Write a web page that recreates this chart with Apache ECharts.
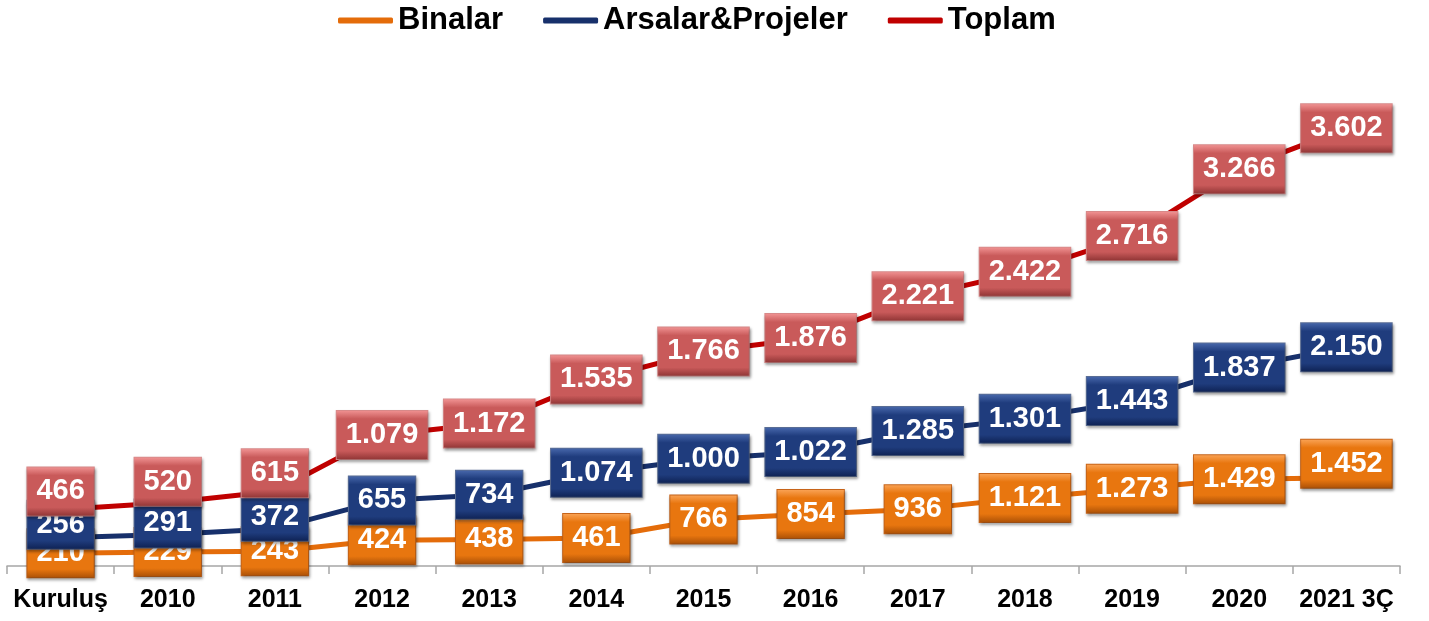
<!DOCTYPE html>
<html style="height: 100%">
<head>
    <meta charset="utf-8">
    <title>line</title>
    <script type="text/javascript" src="https://cdn.jsdelivr.net/npm/echarts@6/dist/echarts.min.js"></script>
    <style>
        html, body { margin: 0; padding: 0; height: 100%; width: 100%; background: #fff; }
        #main { width: 1429px; height: 621px; }
    </style>
</head>
<body>
<div id="main"></div>
<script type="text/javascript">
    var categories = ['Kuruluş', '2010', '2011', '2012', '2013', '2014', '2015', '2016', '2017', '2018', '2019', '2020', '2021 3Ç'];
    var binalar = [210, 229, 243, 424, 438, 461, 766, 854, 936, 1121, 1273, 1429, 1452];
    var arsalar = [256, 291, 372, 655, 734, 1074, 1000, 1022, 1285, 1301, 1443, 1837, 2150];
    var toplam = [466, 520, 615, 1079, 1172, 1535, 1766, 1876, 2221, 2422, 2716, 3266, 3602];

    // label nudges (px, vertical) so the boxes don't sit on top of each other
    var labelShift = [
        [0, 0, 0, 0, 0, 0, 0, 0, 0, 0, 0, 0, -14],
        [-13, -11, -12, 0, 0, 0, 0, 0, 0, 0, 0, 0, 0],
        [-18, -21, -18, 0, 0, 0, 0, 0, 0, 0, 0, 0, 0]
    ];

    var chart = echarts.init(document.getElementById('main'));

    function fmt(v) {
        return String(v).replace(/\B(?=(\d{3})+(?!\d))/g, '.');
    }

    function boxBg(light, mid, dark) {
        return new echarts.graphic.LinearGradient(0, 0, 0, 1, [
            { offset: 0, color: light },
            { offset: 0.18, color: mid },
            { offset: 0.82, color: mid },
            { offset: 1, color: dark }
        ]);
    }

    function makeSeries(name, values, lineColor, bg, border) {
        return {
            name: name,
            type: 'line',
            stack: 'toplam',
            data: values,
            showSymbol: true,
            symbol: 'circle',
            symbolSize: 1,
            lineStyle: { color: lineColor, width: 5 },
            itemStyle: { color: lineColor },
            label: {
                show: true,
                position: 'inside',
                formatter: function (p) { return fmt(p.value); },
                color: '#fff',
                fontFamily: 'Liberation Sans',
                fontWeight: 'bold',
                fontSize: 29,
                lineHeight: 30,
                padding: [9, 9],
                backgroundColor: bg,
                borderColor: border,
                borderWidth: 1,
                shadowColor: 'rgba(0,0,0,0.35)',
                shadowBlur: 3,
                shadowOffsetX: 1,
                shadowOffsetY: 2
            },
            labelLayout: function (p) {
                return { dy: labelShift[p.seriesIndex][p.dataIndex], hideOverlap: false };
            },
            animation: false
        };
    }

    var option = {
        legend: {
            top: 0,
            left: 333,
            itemWidth: 55,
            itemHeight: 6,
            itemGap: 40,
            icon: 'roundRect',
            textStyle: {
                color: '#000',
                fontFamily: 'Liberation Sans',
                fontWeight: 'bold',
                fontSize: 31
            },
            data: ['Binalar', 'Arsalar&Projeler', 'Toplam']
        },
        grid: {
            left: 7,
            right: 29,
            top: 80,
            bottom: 55
        },
        xAxis: {
            type: 'category',
            data: categories,
            boundaryGap: true,
            axisLine: { show: true, lineStyle: { color: '#a6a6a6', width: 1.5 } },
            axisTick: { show: true, length: 8, alignWithLabel: false, lineStyle: { color: '#a6a6a6', width: 1.5 } },
            axisLabel: {
                color: '#000',
                fontFamily: 'Liberation Sans',
                fontWeight: 'bold',
                fontSize: 25,
                margin: 22,
                interval: 0
            }
        },
        yAxis: {
            type: 'value',
            min: 0,
            max: 8000,
            show: false,
            splitLine: { show: false }
        },
        series: [
            makeSeries('Binalar', binalar, '#E46C0A',
                boxBg('#FBA65A', '#E8760F', '#A94F06'), '#C8651A'),
            makeSeries('Arsalar&Projeler', arsalar, '#17306B',
                boxBg('#4A6AAE', '#1F3C7D', '#0E2152'), '#5A6E96'),
            makeSeries('Toplam', toplam, '#C00000',
                boxBg('#F39696', '#C95A5A', '#8E3434'), '#D98A8A')
        ]
    };

    chart.setOption(option);
</script>
</body>
</html>
